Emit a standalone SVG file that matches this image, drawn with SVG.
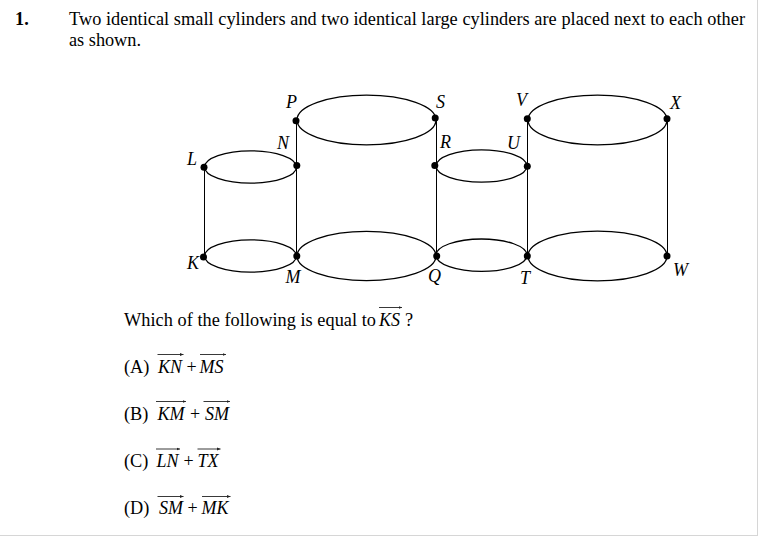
<svg xmlns="http://www.w3.org/2000/svg" width="758" height="536" viewBox="0 0 758 536">
<style>
text{font-family:"Liberation Serif","Times New Roman",serif;font-size:18.3px;fill:#000}
.i{font-style:italic;font-size:18px}
.b{font-weight:bold}
.p{font-size:18px}
.e{fill:none;stroke:#000;stroke-width:1.3}
.l{fill:none;stroke:#000;stroke-width:1}
.d{fill:#000}
.a{stroke:#222;stroke-width:.9;fill:none;marker-end:url(#h)}
</style>
<defs>
<marker id="h" markerUnits="userSpaceOnUse" markerWidth="4" markerHeight="4" refX="3.5" refY="2" orient="auto"><path d="M0 .6L3.5 2L0 3.4z" fill="#222"/></marker>
</defs>
<rect width="758" height="536" fill="#fff"/>
<rect x="757" y="0" width="1" height="536" fill="#d6d6d6"/>
<rect x="0" y="535" width="758" height="1" fill="#d6d6d6"/>
<g id="question">
<text x="15" y="25" class="b">1.</text>
<text x="69" y="25" textLength="676">Two identical small cylinders and two identical large cylinders are placed next to each other</text>
<text x="69" y="46" textLength="72">as shown.</text>
<text x="124" y="325.6" textLength="252">Which of the following is equal to</text>
<text class="i" x="379" y="325.6">KS</text><text x="405" y="325.6">?</text>
<line class="a" x1="379" y1="307.5" x2="402" y2="307.5"/>
</g>
<g id="connectors">
<line class="l" x1="204.5" y1="167" x2="204.5" y2="257"/>
<line class="l" x1="296.5" y1="120" x2="296.5" y2="256"/>
<line class="l" x1="436.5" y1="118" x2="436.5" y2="256"/>
<line class="l" x1="527.5" y1="119" x2="527.5" y2="256"/>
<line class="l" x1="667.5" y1="119" x2="667.5" y2="256"/>
<ellipse class="e" cx="366.5" cy="120" rx="69.5" ry="24.8"/>
<ellipse class="e" cx="250.5" cy="167" rx="46" ry="16.2"/>
<ellipse class="e" cx="250.5" cy="256" rx="46" ry="16.2"/>
<ellipse class="e" cx="366.5" cy="256" rx="69.5" ry="24.6"/>
<ellipse class="e" cx="481.5" cy="166" rx="45.5" ry="16.2"/>
<ellipse class="e" cx="481.5" cy="255.2" rx="45.5" ry="16.2"/>
<ellipse class="e" cx="597.5" cy="120" rx="69.5" ry="24.8"/>
<ellipse class="e" cx="597.5" cy="256" rx="69.5" ry="24.8"/>
</g>
<g id="node-P"><circle class="d" cx="296" cy="120.7" r="3.5"/><text class="i" x="286" y="108">P</text></g>
<g id="node-S"><circle class="d" cx="435.2" cy="118" r="3.5"/><text class="i" x="436" y="108">S</text></g>
<g id="node-N"><circle class="d" cx="296.8" cy="165.5" r="3.5"/><text class="i" x="277" y="149">N</text></g>
<g id="node-L"><circle class="d" cx="204" cy="167.3" r="3.5"/><text class="i" x="187" y="165">L</text></g>
<g id="node-K"><circle class="d" cx="203.5" cy="257" r="3.5"/><text class="i" x="187" y="268.5">K</text></g>
<g id="node-M"><circle class="d" cx="296.8" cy="256" r="3.5"/><text class="i" x="285.5" y="283">M</text></g>
<g id="node-Q"><circle class="d" cx="436.7" cy="256" r="3.5"/><text class="i" x="428" y="282">Q</text></g>
<g id="node-R"><circle class="d" cx="434.8" cy="165.5" r="3.5"/><text class="i" x="440" y="147.5">R</text></g>
<g id="node-U"><circle class="d" cx="527.3" cy="166.3" r="3.5"/><text class="i" x="507" y="149">U</text></g>
<g id="node-V"><circle class="d" cx="527.3" cy="118.7" r="3.5"/><text class="i" x="516" y="106">V</text></g>
<g id="node-X"><circle class="d" cx="667" cy="118.7" r="3.5"/><text class="i" x="670" y="109">X</text></g>
<g id="node-T"><circle class="d" cx="527.3" cy="256" r="3.5"/><text class="i" x="520" y="284">T</text></g>
<g id="node-W"><circle class="d" cx="667" cy="256" r="3.5"/><text class="i" x="673" y="275.5">W</text></g>
<g id="option-a">
<text x="124" y="372.6">(A)</text>
<text class="i" x="158" y="372.6">KN</text><text class="p" x="186.5" y="372.6">+</text><text class="i" x="199.5" y="372.6">MS</text>
<line class="a" x1="157.5" y1="354.5" x2="183.5" y2="354.5"/><line class="a" x1="200" y1="354.5" x2="226" y2="354.5"/>
</g>
<g id="option-b">
<text x="124" y="419.6">(B)</text>
<text class="i" x="157.5" y="419.6">KM</text><text class="p" x="190" y="419.6">+</text><text class="i" x="205" y="419.6">SM</text>
<line class="a" x1="156" y1="401.5" x2="186" y2="401.5"/><line class="a" x1="203.5" y1="401.5" x2="230" y2="401.5"/>
</g>
<g id="option-c">
<text x="124" y="466.6">(C)</text>
<text class="i" x="156.5" y="466.6">LN</text><text class="p" x="183.5" y="466.6">+</text><text class="i" x="197.5" y="466.6">TX</text>
<line class="a" x1="156" y1="449" x2="180" y2="449"/><line class="a" x1="197.5" y1="449" x2="220.5" y2="449"/>
</g>
<g id="option-d">
<text x="124" y="513.6">(D)</text>
<text class="i" x="159" y="513.6">SM</text><text class="p" x="187.5" y="513.6">+</text><text class="i" x="201.5" y="513.6">MK</text>
<line class="a" x1="157.5" y1="496.5" x2="183.5" y2="496.5"/><line class="a" x1="202" y1="496.5" x2="230.5" y2="496.5"/>
</g>
</svg>
